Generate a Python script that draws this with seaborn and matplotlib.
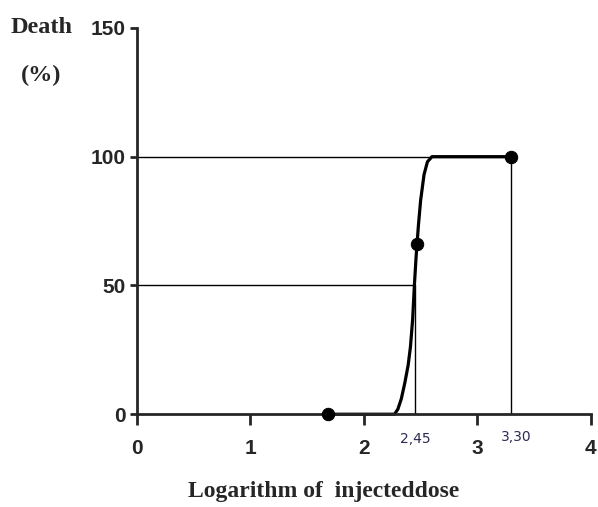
import matplotlib
matplotlib.use('Agg')
import matplotlib.pyplot as plt
import pandas as pd
import seaborn as sns

# observed mortality points
log_dose = [1.68, 2.47, 3.30]
death_pct = [0, 66, 100]

# fitted sigmoid
fit_x = [1.68, 2.27, 2.30, 2.33, 2.36, 2.39, 2.41, 2.43, 2.445, 2.46, 2.48, 2.50, 2.53, 2.56, 2.60, 3.30]
fit_y = [0, 0, 2, 6, 12, 19, 26, 37, 50, 61, 73, 83, 93, 98, 100, 100]

# LD50 and LD100 guide values
ld50 = 2.45
ld100 = 3.30
x_ticks = [0, 1, 2, 3, 4]
y_ticks = [0, 50, 100, 150]

obs_df = pd.DataFrame({'dose': log_dose, 'death': death_pct})
fit_df = pd.DataFrame({'dose': fit_x, 'death': fit_y})

sns.set_style('ticks')
fig = plt.figure(figsize=(5.98, 5.07), dpi=100)
ax = fig.add_axes([0.229, 0.183, 0.759, 0.762])

# guide lines
ax.plot([0, ld100], [100, 100], color='black', lw=1.0, clip_on=False)
ax.plot([0, ld50], [50, 50], color='black', lw=1.0, clip_on=False)
ax.plot([ld50, ld50], [0, 50], color='black', lw=1.0, clip_on=False)
ax.plot([ld100, ld100], [0, 100], color='black', lw=1.0, clip_on=False)

sns.lineplot(data=fit_df, x='dose', y='death', color='black', lw=2.3, ax=ax,
             sort=False, clip_on=False)
sns.scatterplot(data=obs_df, x='dose', y='death', color='black', s=80,
                edgecolor='black', ax=ax, clip_on=False, zorder=5)

ax.set_xlim(0, 4)
ax.set_ylim(0, 150)
ax.set_xticks(x_ticks)
ax.set_yticks(y_ticks)
ax.set_xticklabels([str(t) for t in x_ticks], fontsize=15, fontweight='bold',
                   family='Liberation Sans')
ax.set_yticklabels([str(t) for t in y_ticks], fontsize=15, fontweight='bold',
                   family='Liberation Sans')
ax.tick_params(axis='y', width=2, length=5, direction='out', pad=3)
ax.tick_params(axis='x', width=2, length=8, direction='out', pad=10)
for side in ['left', 'bottom']:
    ax.spines[side].set_linewidth(2)
sns.despine(ax=ax)
ax.set_xlabel('')
ax.set_ylabel('')

# value labels for LD50 / LD100
ax.text(ld50 + 0.0, -7, '2,45', ha='center', va='top', fontsize=10,
        color='#2b2b55', family='Liberation Sans Narrow')
ax.text(ld100 + 0.04, -6, '3,30', ha='center', va='top', fontsize=10,
        color='#2b2b55', family='Liberation Sans Narrow')

fig.text(0.070, 0.945, 'Death', ha='center', va='center', fontsize=17.5,
         fontweight='bold', family='Liberation Serif')
fig.text(0.068, 0.852, '(%)', ha='center', va='center', fontsize=17.5,
         fontweight='bold', family='Liberation Serif')
fig.text(0.542, 0.030, 'Logarithm of  injecteddose', ha='center', va='center',
         fontsize=17, fontweight='bold', family='Liberation Serif')

fig.savefig('out.png', dpi=100)
